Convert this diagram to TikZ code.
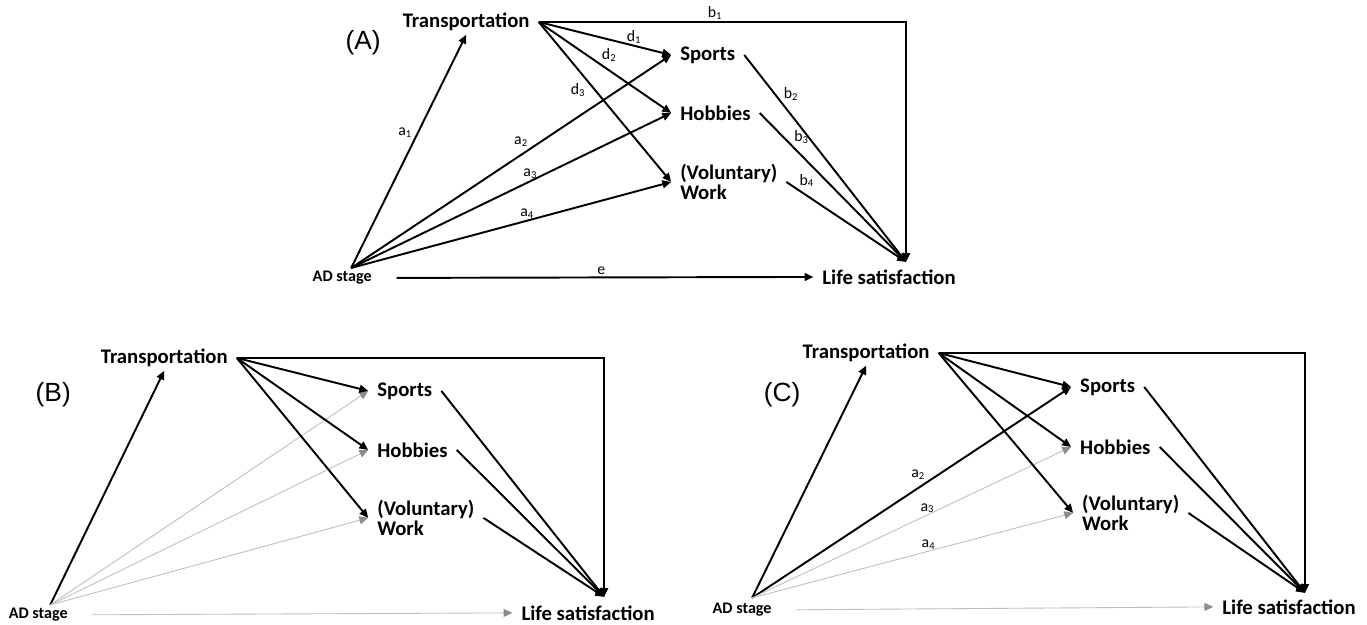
\documentclass[tikz,border=0pt]{standalone}
\usepackage{fontspec}
\setmainfont{Carlito}
\newfontfamily\panelfont{Liberation Sans}
\usetikzlibrary{arrows.meta}

\begin{document}
\begin{tikzpicture}[
    x=0.02cm, y=-0.02cm,
    var/.style={inner xsep=5pt, inner ysep=2pt, font=\fontsize{11.8}{11.3}\selectfont\bfseries},
    smallvar/.style={font=\fontsize{9.2}{10}\selectfont\bfseries},
    panel/.style={font=\panelfont\fontsize{15}{15}\selectfont},
    coef/.style={inner sep=0.8pt, font=\fontsize{9}{9}\selectfont},
    arrow/.style={->, >={Triangle[length=5pt, width=4.5pt]}, line width=1.1pt},
    faint/.style={->, >={Triangle[length=5pt, width=4.5pt, color=black!45]}, draw=black!25, line width=0.5pt}
]
    \fill[white] (0,0) rectangle (1367,624);

    % (A) full model
    \node[panel] (tagA) at (363,43) {(A)};
    \node[var] (transA) at (466,22) {Transportation};
    \node[var, anchor=west] (sportsA) at (671,55) {Sports};
    \node[var, anchor=west] (hobbiesA) at (671,113) {Hobbies};
    \node[var, anchor=west, align=left] (workA) at (671,182) {(Voluntary)\\Work};
    \node[var, smallvar] (adA) at (342,278) {AD stage};
    \node[var] (lifeA) at (889,277) {Life satisfaction};
    \coordinate (hubA) at (351,268);
    \coordinate (lsA) at (906,262);

    \draw[arrow] (hubA) -- node[coef, pos=.55, above left] {a\textsubscript{1}} (transA.south);
    \draw[arrow] (hubA) -- node[coef, pos=.56, above left] {a\textsubscript{2}} (sportsA.west);
    \draw[arrow] (hubA) -- node[coef, pos=.56, above] {a\textsubscript{3}} (hobbiesA.west);
    \draw[arrow] (hubA) -- node[coef, pos=.55, above] {a\textsubscript{4}} (workA.west);
    \draw[arrow] (transA.east) -- node[coef, pos=.72, above] {d\textsubscript{1}} (sportsA.west);
    \draw[arrow] (transA.east) -- node[coef, pos=.46, above right] {d\textsubscript{2}} (hobbiesA.west);
    \draw[arrow] (transA.east) -- node[coef, pos=.37, below left] {d\textsubscript{3}} (workA.west);
    \draw[arrow] (transA.east) -| node[coef, pos=.24, above] {b\textsubscript{1}} (lsA);
    \draw[arrow] (sportsA.east) -- node[coef, pos=.23, above right] {b\textsubscript{2}} (lsA);
    \draw[arrow] (hobbiesA.east) -- node[coef, pos=.22, above right] {b\textsubscript{3}} (lsA);
    \draw[arrow] (workA.east) -- node[coef, pos=.09, above right] {b\textsubscript{4}} (lsA);
    \draw[arrow, shorten <=9pt] (adA.east) -- node[coef, pos=.51, above] {e} (lifeA.west);

    % (B) only via transportation
    \node[panel] (tagB) at (53,395) {(B)};
    \node[var] (transB) at (164,358) {Transportation};
    \node[var, anchor=west] (sportsB) at (368,391) {Sports};
    \node[var, anchor=west] (hobbiesB) at (368,450) {Hobbies};
    \node[var, anchor=west, align=left] (workB) at (368,518) {(Voluntary)\\Work};
    \node[var, smallvar] (adB) at (38,615) {AD stage};
    \node[var] (lifeB) at (588,613) {Life satisfaction};
    \coordinate (hubB) at (50,605);
    \coordinate (lsB) at (604,597);

    \draw[arrow] (hubB) -- (transB.south);
    \draw[faint] (hubB) -- (sportsB.west);
    \draw[faint] (hubB) -- (hobbiesB.west);
    \draw[faint] (hubB) -- (workB.west);
    \draw[arrow] (transB.east) -- (sportsB.west);
    \draw[arrow] (transB.east) -- (hobbiesB.west);
    \draw[arrow] (transB.east) -- (workB.west);
    \draw[arrow] (transB.east) -| (lsB);
    \draw[arrow] (sportsB.east) -- (lsB);
    \draw[arrow] (hobbiesB.east) -- (lsB);
    \draw[arrow] (workB.east) -- (lsB);
    \draw[faint, shorten <=9pt] (adB.east) -- (lifeB.west);

    % (C) sports also direct
    \node[panel] (tagC) at (782,395) {(C)};
    \node[var] (transC) at (866,353) {Transportation};
    \node[var, anchor=west] (sportsC) at (1071,387) {Sports};
    \node[var, anchor=west] (hobbiesC) at (1071,447) {Hobbies};
    \node[var, anchor=west, align=left] (workC) at (1073,513) {(Voluntary)\\Work};
    \node[var, smallvar] (adC) at (742,610) {AD stage};
    \node[var] (lifeC) at (1289,607) {Life satisfaction};
    \coordinate (hubC) at (752,598);
    \coordinate (lsC) at (1305,593);

    \draw[arrow] (hubC) -- (transC.south);
    \draw[arrow] (hubC) -- node[coef, pos=.55, above left] {a\textsubscript{2}} (sportsC.west);
    \draw[faint] (hubC) -- node[coef, pos=.55, above] {a\textsubscript{3}} (hobbiesC.west);
    \draw[faint] (hubC) -- node[coef, pos=.55, above] {a\textsubscript{4}} (workC.west);
    \draw[arrow] (transC.east) -- (sportsC.west);
    \draw[arrow] (transC.east) -- (hobbiesC.west);
    \draw[arrow] (transC.east) -- (workC.west);
    \draw[arrow] (transC.east) -| (lsC);
    \draw[arrow] (sportsC.east) -- (lsC);
    \draw[arrow] (hobbiesC.east) -- (lsC);
    \draw[arrow] (workC.east) -- (lsC);
    \draw[faint, shorten <=9pt] (adC.east) -- (lifeC.west);
\end{tikzpicture}
\end{document}
